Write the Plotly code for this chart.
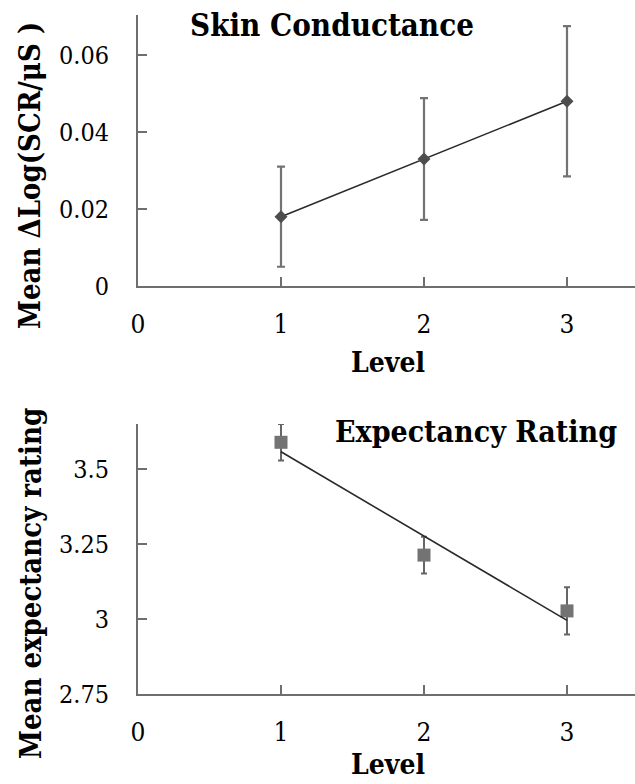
import numpy as np
import plotly.graph_objects as go

# Skin conductance: mean change in log SCR per level, with error bars
levels = [1, 2, 3]
scr_mean = [0.018, 0.033, 0.048]
scr_err = [0.013, 0.0158, 0.0195]

# Expectancy rating per level, with error bars
rating_mean = [3.589, 3.213, 3.027]
rating_err = [0.061, 0.061, 0.079]

x_ticks = [0, 1, 2, 3]
scr_ticks = [0, 0.02, 0.04, 0.06]
scr_tick_text = ["0", "0.02", "0.04", "0.06"]
rating_ticks = [2.75, 3, 3.25, 3.5]
rating_tick_text = ["2.75", "3", "3.25", "3.5"]

# least-squares trend of the ratings across levels
slope, intercept = np.polyfit(levels, rating_mean, 1)
trend_x = [levels[0], levels[-1]]
trend_y = [slope * v + intercept for v in trend_x]

FONT = "DejaVu Serif Condensed, DejaVu Serif, Liberation Serif, serif"
INK = "#000000"
AXIS_GREY = "#6e6e6e"
ERR_GREY = "#737373"

W, H = 635, 784
LEFT = 138


def fy(py):
    """paper y fraction for a pixel row"""
    return 1 - py / H


def fx(px):
    """paper x fraction for a pixel column"""
    return (px - LEFT) / (W - LEFT)


fig = go.Figure()

fig.add_trace(go.Scatter(
    x=levels, y=scr_mean, mode="lines+markers",
    line=dict(color="#2a2a2a", width=1.6),
    marker=dict(symbol="diamond", size=10, color="#4d4d4d"),
    error_y=dict(type="data", array=scr_err, color=ERR_GREY, thickness=2.2, width=4),
    xaxis="x", yaxis="y", showlegend=False,
))

fig.add_trace(go.Scatter(
    x=levels, y=rating_mean, mode="markers",
    marker=dict(symbol="square", size=13, color="#737373"),
    error_y=dict(type="data", array=rating_err, color="#666666", thickness=2, width=3),
    xaxis="x2", yaxis="y2", showlegend=False,
))

fig.add_trace(go.Scatter(
    x=trend_x, y=trend_y, mode="lines",
    line=dict(color="#2a2a2a", width=1.6),
    xaxis="x2", yaxis="y2", showlegend=False, hoverinfo="skip",
))

x_common = dict(
    range=[0, (W - LEFT) / 143.0],
    tickvals=x_ticks, ticktext=[str(t) for t in x_ticks],
    ticks="inside", ticklen=9, tickwidth=1.8, tickcolor=AXIS_GREY,
    showline=True, linecolor=AXIS_GREY, linewidth=2,
    showgrid=False, zeroline=False, automargin=False,
    tickfont=dict(family=FONT, size=26, color=INK),
    ticklabelstandoff=14,
)

y_common = dict(
    ticks="inside", ticklen=9, tickwidth=1.8, tickcolor=AXIS_GREY,
    showline=True, linecolor=AXIS_GREY, linewidth=2,
    showgrid=False, zeroline=False, automargin=False,
    tickfont=dict(family=FONT, size=25, color=INK),
    ticklabelstandoff=22,
)


def label(text, x, y, size, angle=0):
    return dict(text=f"<b>{text}</b>", xref="paper", yref="paper",
                x=fx(x), y=fy(y), xanchor="center", yanchor="middle",
                textangle=angle, showarrow=False,
                font=dict(family=FONT, size=size, color=INK))


fig.update_layout(
    width=W, height=H,
    margin=dict(l=LEFT, r=0, t=0, b=0, autoexpand=False),
    paper_bgcolor="white", plot_bgcolor="white",
    xaxis=dict(**x_common, domain=[0, 1], anchor="y"),
    yaxis=dict(**y_common, domain=[fy(286), fy(15)], anchor="x",
               range=[0, 0.0704], tickvals=scr_ticks, ticktext=scr_tick_text),
    xaxis2=dict(**x_common, domain=[0, 1], anchor="y2"),
    yaxis2=dict(**y_common, domain=[fy(694), fy(424)], anchor="x2",
                range=[2.75, 3.65], tickvals=rating_ticks, ticktext=rating_tick_text),
    annotations=[
        label("Skin Conductance", 332, 25, 31),
        label("Expectancy Rating", 476, 432, 30),
        label("Level", 388, 362, 28),
        label("Level", 388, 764, 28),
        label("Mean ΔLog(SCR/μS )", 30, 176, 29, -90),
        label("Mean expectancy rating", 31, 584, 29, -90),
    ],
)

fig.write_html("out.html")
